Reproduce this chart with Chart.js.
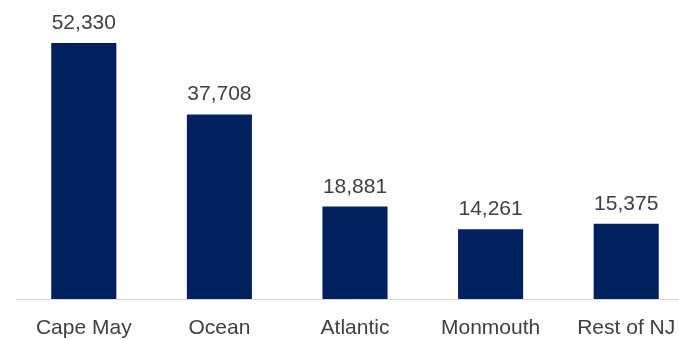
<!DOCTYPE html>
<html>
<head>
<meta charset="utf-8">
<script src="https://cdn.jsdelivr.net/npm/chart.js@4/dist/chart.umd.min.js"></script>
<style>
  html, body { margin: 0; padding: 0; background: #ffffff; overflow: hidden; }
  #wrap { position: relative; width: 694px; height: 339px; }
</style>
</head>
<body>
<div id="wrap"><canvas id="chart"></canvas></div>
<script>
// Counties and their totals
const categories = ['Cape May', 'Ocean', 'Atlantic', 'Monmouth', 'Rest of NJ'];
const totals = [52330, 37708, 18881, 14261, 15375];

const BAR_COLOR = '#002060';
const TEXT_COLOR = '#404040';
const FONT_FAMILY = '"Liberation Sans", Arial, sans-serif';

// Writes each bar's value just above it
const valueLabels = {
  id: 'valueLabels',
  afterDatasetsDraw(chart) {
    const ctx = chart.ctx;
    const meta = chart.getDatasetMeta(0);
    ctx.save();
    ctx.fillStyle = TEXT_COLOR;
    ctx.font = '21px ' + FONT_FAMILY;
    ctx.textAlign = 'center';
    ctx.textBaseline = 'alphabetic';
    meta.data.forEach((bar, i) => {
      const v = chart.data.datasets[0].data[i];
      ctx.fillText(v.toLocaleString('en-US'), bar.x, bar.y - 14);
    });
    ctx.restore();
  }
};

new Chart(document.getElementById('chart'), {
  type: 'bar',
  data: {
    labels: categories,
    datasets: [{
      data: totals,
      backgroundColor: BAR_COLOR,
      borderWidth: 0,
      categoryPercentage: 1.0,
      barPercentage: 0.48
    }]
  },
  options: {
    responsive: true,
    maintainAspectRatio: false,
    animation: false,
    layout: { padding: { left: 16, right: 0, top: 0, bottom: 0 } },
    plugins: {
      legend: { display: false },
      tooltip: { enabled: false }
    },
    scales: {
      x: {
        grid: { display: false, drawTicks: false },
        border: { display: true, color: '#d9d9d9', width: 1 },
        ticks: {
          color: TEXT_COLOR,
          font: { family: FONT_FAMILY, size: 21 },
          padding: 17,
          maxRotation: 0,
          autoSkip: false
        },
        afterFit(scale) { scale.height = 40; }
      },
      y: {
        display: false,
        min: 0,
        max: 61100
      }
    }
  },
  plugins: [valueLabels]
});
</script>
</body>
</html>
